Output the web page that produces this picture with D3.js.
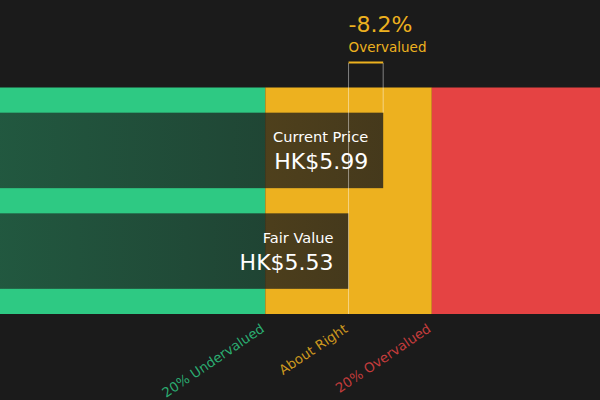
<!DOCTYPE html>
<html><head><meta charset="utf-8">
<script src="https://cdn.jsdelivr.net/npm/d3@7"></script>
<style>html,body{margin:0;padding:0;background:#1b1b1b;}svg{display:block;font-family:"DejaVu Sans",sans-serif;}</style>
</head><body>
<svg id="c" width="600" height="400"></svg>
<script>
// Data
const barNames = ["Current Price", "Fair Value"];
const barValues = [5.99, 5.53];
const barLabels = ["HK$5.99", "HK$5.53"];
const fairValue = 5.53;
const zoneNames = ["20% Undervalued", "About Right", "20% Overvalued"];
const zoneBounds = [0.9, 4.424, 6.636, 8.87];
const zoneColors = ["#2ec983", "#edb11f", "#e54343"];
const diffLabel = "-8.2%";
const diffText = "Overvalued";
const xDomain = [0.9, 8.87];

(function () {
const svg = d3.select("#c");
const W = 600;
const x = d3.scaleLinear().domain(xDomain).range([0, W]);
const bandTop = 87.5, bandBottom = 314;
const y = d3.scaleBand().domain(barNames).range([bandTop, bandBottom]).paddingInner(0.25).paddingOuter(0.25);

// gradient
const defs = svg.append("defs");
const g = defs.append("linearGradient").attr("id", "barGrad").attr("x1", "0").attr("x2", "1").attr("y1", "0").attr("y2", "0");
g.append("stop").attr("offset", "0%").attr("stop-color", "#1b1b1b").attr("stop-opacity", 0.65);
g.append("stop").attr("offset", "100%").attr("stop-color", "#1b1b1b").attr("stop-opacity", 0.8);

// zones
svg.selectAll("rect.zone").data(zoneNames).enter().append("rect")
  .attr("class", "zone")
  .attr("x", (d, i) => x(zoneBounds[i]))
  .attr("width", (d, i) => x(zoneBounds[i + 1]) - x(zoneBounds[i]))
  .attr("y", bandTop).attr("height", bandBottom - bandTop)
  .attr("fill", (d, i) => zoneColors[i]);

// bars
svg.selectAll("rect.bar").data(barNames).enter().append("rect")
  .attr("class", "bar")
  .attr("x", x(xDomain[0])).attr("y", d => y(d))
  .attr("width", (d, i) => x(barValues[i]) - x(xDomain[0]))
  .attr("height", y.bandwidth())
  .attr("fill", "url(#barGrad)");

// bracket lines
const fx = x(fairValue), cx = x(barValues[0]);
svg.append("line").attr("x1", fx).attr("x2", fx).attr("y1", 63).attr("y2", bandBottom)
  .attr("stroke", "#ffffff").attr("stroke-opacity", 0.45).attr("stroke-width", 1);
svg.append("line").attr("x1", cx).attr("x2", cx).attr("y1", 63).attr("y2", y(barNames[0]))
  .attr("stroke", "#ffffff").attr("stroke-opacity", 0.45).attr("stroke-width", 1);
svg.append("line").attr("x1", fx).attr("x2", cx).attr("y1", 62.5).attr("y2", 62.5)
  .attr("stroke", zoneColors[1]).attr("stroke-width", 2);

// top labels
svg.append("text").attr("x", fx).attr("y", 32).attr("fill", zoneColors[1])
  .attr("font-size", 22).text(diffLabel);
svg.append("text").attr("x", fx).attr("y", 51.5).attr("fill", zoneColors[1])
  .attr("font-size", 13.5).text(diffText);

// bar labels
barNames.forEach((n, i) => {
  const bx = x(barValues[i]) - 15;
  svg.append("text").attr("x", bx).attr("y", y(n) + 29.5).attr("text-anchor", "end")
    .attr("fill", "#ffffff").attr("font-size", 14.6).text(n);
  svg.append("text").attr("x", bx).attr("y", y(n) + 56.5).attr("text-anchor", "end")
    .attr("fill", "#ffffff").attr("font-size", 22).text(barLabels[i]);
});

// zone labels
const labelX = [x(zoneBounds[1]), x(fairValue), x(zoneBounds[2])];
zoneNames.forEach((n, i) => {
  svg.append("text")
    .attr("transform", `translate(${labelX[i]},${bandBottom + 17}) rotate(-34)`)
    .attr("text-anchor", "end").attr("fill", zoneColors[i]).attr("fill-opacity", 0.85)
    .attr("font-size", 13.4).text(n);
});
})();
</script>
</body></html>
